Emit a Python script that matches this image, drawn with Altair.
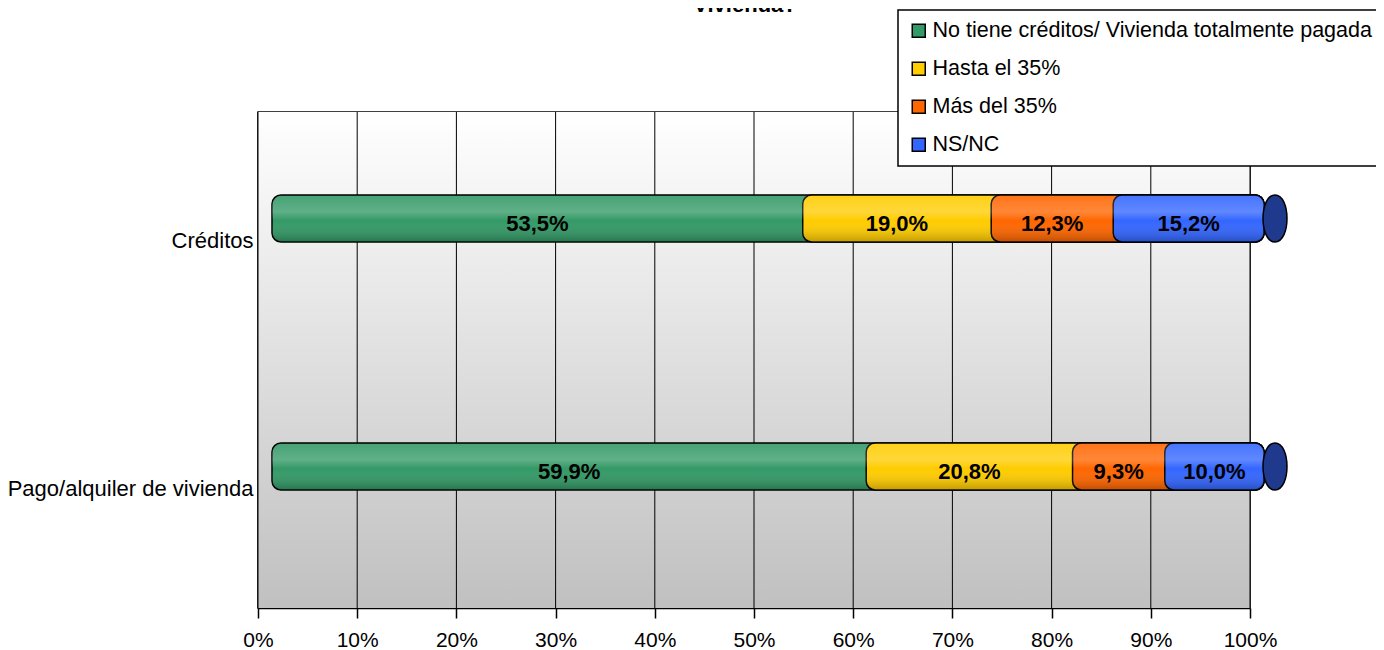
import altair as alt
import pandas as pd

categories = ["Créditos", "Pago/alquiler de vivienda"]
series = ["No tiene créditos/ Vivienda totalmente pagada", "Hasta el 35%", "Más del 35%", "NS/NC"]
creditos = [53.5, 19.0, 12.3, 15.2]
pago = [59.9, 20.8, 9.3, 10.0]
colors = ["#339966", "#FFCC00", "#FF6600", "#3366FF"]
cap_colors = ["#1F3A8C", "#1F3A8C"]
x_ticks = [0, 10, 20, 30, 40, 50, 60, 70, 80, 90, 100]
title_text = "Vivienda?"

W, H = 992, 496
FONT = "Liberation Sans, Arial, sans-serif"

rows = []
for cat, vals in zip(categories, [creditos, pago]):
    cum = 0.0
    total = sum(vals)
    for i, (s, v) in enumerate(zip(series, vals)):
        rows.append({"cat": cat, "series": s, "val": v, "ord": i,
                     "start": cum, "total": total,
                     "mid": cum + v / 2, "label": f"{v:.1f}".replace(".", ",") + "%"})
        cum += v
df = pd.DataFrame(rows)
tot = pd.DataFrame({"cat": categories, "start": [0, 0],
                    "total": [sum(creditos), sum(pago)], "capc": cap_colors})
grid_df = pd.DataFrame({"t": x_ticks})

xscale = alt.Scale(domain=[0, 100], nice=False, zero=True)
yscale = alt.Scale(domain=categories, paddingInner=0, paddingOuter=0)
x_axis = alt.Axis(values=x_ticks, labelExpr="datum.value + '%'", title=None)

bg_grad = alt.LinearGradient(gradient="linear", x1=0, x2=0, y1=0, y2=1,
                             stops=[alt.GradientStop(color="#ffffff", offset=0),
                                    alt.GradientStop(color="#c0c0c0", offset=1)])
shine = alt.LinearGradient(gradient="linear", x1=0, x2=0, y1=0, y2=1,
                           stops=[alt.GradientStop(color="rgba(255,255,255,0.10)", offset=0),
                                  alt.GradientStop(color="rgba(255,255,255,0.22)", offset=0.35),
                                  alt.GradientStop(color="rgba(255,255,255,0.0)", offset=0.55),
                                  alt.GradientStop(color="rgba(0,0,0,0.22)", offset=1)])

bg = alt.Chart(alt.Data(values=[{}])).mark_rect(color=bg_grad).encode(
    x=alt.value(0), x2=alt.value(W), y=alt.value(0), y2=alt.value(H))

grid = alt.Chart(grid_df).mark_rule(color="black", strokeWidth=1).encode(
    x=alt.X("t:Q", scale=xscale, axis=x_axis))

BAR_H = 47
XOFF = 14
YOFF = -17.5
RAD = 9

bars = alt.Chart(df).mark_bar(size=BAR_H, xOffset=XOFF, x2Offset=XOFF, yOffset=YOFF,
                              stroke="black", strokeWidth=1.5, cornerRadius=RAD).encode(
    y=alt.Y("cat:N", scale=yscale, sort=categories, title=None),
    x=alt.X("start:Q", scale=xscale, axis=x_axis),
    x2="total:Q",
    color=alt.Color("series:N", scale=alt.Scale(domain=series, range=colors),
                    legend=alt.Legend(title=None)),
)

overlay = alt.Chart(tot).mark_bar(size=BAR_H - 2, xOffset=XOFF, x2Offset=XOFF, yOffset=YOFF,
                                  color=shine, cornerRadius=RAD).encode(
    y=alt.Y("cat:N", scale=yscale, sort=categories, title=None),
    x=alt.X("start:Q", scale=xscale, axis=x_axis),
    x2="total:Q",
)

ellipse = "M0,-1 C0.68,-1 0.68,1 0,1 C-0.68,1 -0.68,-1 0,-1 Z"
cap = alt.Chart(tot).mark_point(shape=ellipse, size=BAR_H * BAR_H, filled=True, opacity=1,
                                stroke="black", strokeWidth=1.5, xOffset=XOFF + 11,
                                yOffset=YOFF).encode(
    y=alt.Y("cat:N", scale=yscale, sort=categories, title=None),
    x=alt.X("total:Q", scale=xscale, axis=x_axis),
    fill=alt.Fill("capc:N", scale=None, legend=None),
)

labels = alt.Chart(df).mark_text(fontSize=22, fontWeight="bold", font=FONT, color="black",
                                 baseline="middle", dx=XOFF, dy=-12).encode(
    y=alt.Y("cat:N", scale=yscale, sort=categories, title=None),
    x=alt.X("mid:Q", scale=xscale, axis=x_axis),
    text="label:N",
)

title = alt.Chart(alt.Data(values=[{}])).mark_text(
    text=title_text, fontSize=22, fontWeight="bold", font=FONT, color="black",
    baseline="alphabetic", align="center").encode(
    x=alt.value(487), y=alt.value(-100))

chart = alt.layer(bg, grid, bars, overlay, cap, labels, title).properties(
    width=W, height=H,
    autosize=alt.AutoSizeParams(type="none"),
    padding={"left": 250, "top": 104, "right": 126, "bottom": 42},
).configure_view(stroke="black", strokeWidth=1.5).configure_axisX(
    grid=False, labelFlush=False, labelOverlap=False,
    domainColor="black", domainWidth=1.5, tickColor="black", tickSize=10, tickWidth=1.5,
    labelFont=FONT, labelFontSize=21, labelColor="black", labelPadding=11,
).configure_axisY(
    grid=False, ticks=False, domainColor="black", domainWidth=1.5, labelLimit=500,
    labelFont=FONT, labelFontSize=22, labelColor="black", labelPadding=5, labelOffset=5,
).configure_legend(
    orient="none", legendX=640, legendY=-102, fillColor="white", strokeColor="black",
    strokeWidth=1.5, padding=10, rowPadding=15, labelFont=FONT, labelFontSize=21.5,
    labelColor="black", labelLimit=800, labelOffset=3, symbolType="square",
    symbolSize=169, symbolStrokeColor="black", symbolStrokeWidth=1.5,
)

chart.save("out.html", embed_options={"renderer": "svg", "actions": False})
